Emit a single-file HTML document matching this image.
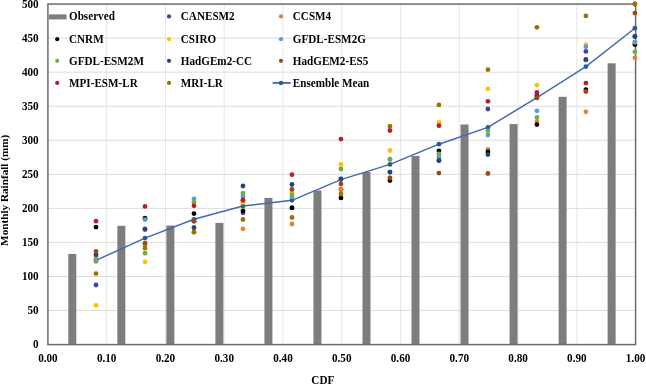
<!DOCTYPE html>
<html><head><meta charset="utf-8"><style>
html,body{margin:0;padding:0;background:#fff;}
body{width:646px;height:385px;overflow:hidden;position:relative;font-family:"Liberation Serif",serif;}
</style></head><body>
<svg width="646" height="385" viewBox="0 0 646 385" style="position:absolute;left:0;top:0;will-change:transform">
<g stroke="#E6E6E6" stroke-width="1"><line x1="106.67" y1="4.05" x2="106.67" y2="344.60"/><line x1="165.44" y1="4.05" x2="165.44" y2="344.60"/><line x1="224.21" y1="4.05" x2="224.21" y2="344.60"/><line x1="282.98" y1="4.05" x2="282.98" y2="344.60"/><line x1="341.75" y1="4.05" x2="341.75" y2="344.60"/><line x1="400.52" y1="4.05" x2="400.52" y2="344.60"/><line x1="459.29" y1="4.05" x2="459.29" y2="344.60"/><line x1="518.06" y1="4.05" x2="518.06" y2="344.60"/><line x1="576.83" y1="4.05" x2="576.83" y2="344.60"/></g>
<g stroke="#DDDDDD" stroke-width="1"><line x1="47.90" y1="310.55" x2="635.60" y2="310.55"/><line x1="47.90" y1="276.49" x2="635.60" y2="276.49"/><line x1="47.90" y1="242.44" x2="635.60" y2="242.44"/><line x1="47.90" y1="208.38" x2="635.60" y2="208.38"/><line x1="47.90" y1="174.33" x2="635.60" y2="174.33"/><line x1="47.90" y1="140.27" x2="635.60" y2="140.27"/><line x1="47.90" y1="106.22" x2="635.60" y2="106.22"/><line x1="47.90" y1="72.16" x2="635.60" y2="72.16"/><line x1="47.90" y1="38.11" x2="635.60" y2="38.11"/></g>
<g fill="#7D7D7D"><rect x="68.30" y="253.90" width="8.0" height="90.70"/><rect x="117.33" y="225.80" width="8.0" height="118.80"/><rect x="166.36" y="225.50" width="8.0" height="119.10"/><rect x="215.39" y="222.90" width="8.0" height="121.70"/><rect x="264.42" y="197.90" width="8.0" height="146.70"/><rect x="313.45" y="190.50" width="8.0" height="154.10"/><rect x="362.48" y="172.00" width="8.0" height="172.60"/><rect x="411.51" y="155.90" width="8.0" height="188.70"/><rect x="460.54" y="124.50" width="8.0" height="220.10"/><rect x="509.57" y="124.10" width="8.0" height="220.50"/><rect x="558.60" y="96.80" width="8.0" height="247.80"/><rect x="607.63" y="63.30" width="8.0" height="281.30"/></g>
<rect x="47.90" y="4.05" width="587.70" height="340.55" fill="none" stroke="#6b6b6b" stroke-width="1.5"/>
<polyline points="96.00,260.30 144.99,238.10 193.98,219.30 242.97,206.00 291.96,200.30 340.95,179.60 389.94,164.40 438.93,144.20 487.92,127.40 536.91,97.60 585.90,66.60 634.89,28.20" fill="none" stroke="#4268B2" stroke-width="1.45" stroke-linejoin="round"/>
<circle cx="96.00" cy="260.30" r="2.4" fill="#255E91"/><circle cx="144.99" cy="238.10" r="2.4" fill="#255E91"/><circle cx="193.98" cy="219.30" r="2.4" fill="#255E91"/><circle cx="242.97" cy="206.00" r="2.4" fill="#255E91"/><circle cx="291.96" cy="200.30" r="2.4" fill="#255E91"/><circle cx="340.95" cy="179.60" r="2.4" fill="#255E91"/><circle cx="389.94" cy="164.40" r="2.4" fill="#255E91"/><circle cx="438.93" cy="144.20" r="2.4" fill="#255E91"/><circle cx="487.92" cy="127.40" r="2.4" fill="#255E91"/><circle cx="536.91" cy="97.60" r="2.4" fill="#255E91"/><circle cx="585.90" cy="66.60" r="2.4" fill="#255E91"/><circle cx="634.89" cy="28.20" r="2.4" fill="#255E91"/>
<circle cx="96.00" cy="285.00" r="2.4" fill="#4B3CA8"/><circle cx="144.99" cy="229.00" r="2.4" fill="#4B3CA8"/><circle cx="193.98" cy="221.20" r="2.4" fill="#4B3CA8"/><circle cx="242.97" cy="212.80" r="2.4" fill="#4B3CA8"/><circle cx="291.96" cy="207.70" r="2.4" fill="#4B3CA8"/><circle cx="340.95" cy="189.50" r="2.4" fill="#4B3CA8"/><circle cx="389.94" cy="172.10" r="2.4" fill="#4B3CA8"/><circle cx="438.93" cy="160.50" r="2.4" fill="#4B3CA8"/><circle cx="487.92" cy="109.00" r="2.4" fill="#4B3CA8"/><circle cx="536.91" cy="95.00" r="2.4" fill="#4B3CA8"/><circle cx="585.90" cy="51.40" r="2.4" fill="#4B3CA8"/><circle cx="634.89" cy="36.40" r="2.4" fill="#4B3CA8"/><circle cx="96.00" cy="256.60" r="2.4" fill="#ED7D31"/><circle cx="144.99" cy="245.50" r="2.4" fill="#ED7D31"/><circle cx="193.98" cy="227.70" r="2.4" fill="#ED7D31"/><circle cx="242.97" cy="228.80" r="2.4" fill="#ED7D31"/><circle cx="291.96" cy="224.00" r="2.4" fill="#ED7D31"/><circle cx="340.95" cy="189.50" r="2.4" fill="#ED7D31"/><circle cx="389.94" cy="177.90" r="2.4" fill="#ED7D31"/><circle cx="438.93" cy="154.00" r="2.4" fill="#ED7D31"/><circle cx="487.92" cy="149.40" r="2.4" fill="#ED7D31"/><circle cx="536.91" cy="121.60" r="2.4" fill="#ED7D31"/><circle cx="585.90" cy="111.80" r="2.4" fill="#ED7D31"/><circle cx="634.89" cy="57.80" r="2.4" fill="#ED7D31"/><circle cx="96.00" cy="227.10" r="2.4" fill="#000000"/><circle cx="144.99" cy="218.20" r="2.4" fill="#000000"/><circle cx="193.98" cy="213.60" r="2.4" fill="#000000"/><circle cx="242.97" cy="210.80" r="2.4" fill="#000000"/><circle cx="291.96" cy="207.90" r="2.4" fill="#000000"/><circle cx="340.95" cy="197.90" r="2.4" fill="#000000"/><circle cx="389.94" cy="180.50" r="2.4" fill="#000000"/><circle cx="438.93" cy="150.80" r="2.4" fill="#000000"/><circle cx="487.92" cy="151.90" r="2.4" fill="#000000"/><circle cx="536.91" cy="124.60" r="2.4" fill="#000000"/><circle cx="585.90" cy="89.60" r="2.4" fill="#000000"/><circle cx="634.89" cy="44.50" r="2.4" fill="#000000"/><circle cx="96.00" cy="305.30" r="2.4" fill="#FFC000"/><circle cx="144.99" cy="261.80" r="2.4" fill="#FFC000"/><circle cx="193.98" cy="232.20" r="2.4" fill="#FFC000"/><circle cx="242.97" cy="202.50" r="2.4" fill="#FFC000"/><circle cx="291.96" cy="192.30" r="2.4" fill="#FFC000"/><circle cx="340.95" cy="164.40" r="2.4" fill="#FFC000"/><circle cx="389.94" cy="150.50" r="2.4" fill="#FFC000"/><circle cx="438.93" cy="122.50" r="2.4" fill="#FFC000"/><circle cx="487.92" cy="88.80" r="2.4" fill="#FFC000"/><circle cx="536.91" cy="85.10" r="2.4" fill="#FFC000"/><circle cx="585.90" cy="44.70" r="2.4" fill="#FFC000"/><circle cx="634.89" cy="42.20" r="2.4" fill="#FFC000"/><circle cx="96.00" cy="259.00" r="2.4" fill="#5B9BD5"/><circle cx="144.99" cy="219.60" r="2.4" fill="#5B9BD5"/><circle cx="193.98" cy="198.80" r="2.4" fill="#5B9BD5"/><circle cx="242.97" cy="196.40" r="2.4" fill="#5B9BD5"/><circle cx="291.96" cy="196.80" r="2.4" fill="#5B9BD5"/><circle cx="340.95" cy="179.00" r="2.4" fill="#5B9BD5"/><circle cx="389.94" cy="159.40" r="2.4" fill="#5B9BD5"/><circle cx="438.93" cy="157.30" r="2.4" fill="#5B9BD5"/><circle cx="487.92" cy="135.10" r="2.4" fill="#5B9BD5"/><circle cx="536.91" cy="110.80" r="2.4" fill="#5B9BD5"/><circle cx="585.90" cy="46.70" r="2.4" fill="#5B9BD5"/><circle cx="634.89" cy="42.20" r="2.4" fill="#5B9BD5"/><circle cx="96.00" cy="261.40" r="2.4" fill="#70AD47"/><circle cx="144.99" cy="253.20" r="2.4" fill="#70AD47"/><circle cx="193.98" cy="202.30" r="2.4" fill="#70AD47"/><circle cx="242.97" cy="193.10" r="2.4" fill="#70AD47"/><circle cx="291.96" cy="194.60" r="2.4" fill="#70AD47"/><circle cx="340.95" cy="169.00" r="2.4" fill="#70AD47"/><circle cx="389.94" cy="159.20" r="2.4" fill="#70AD47"/><circle cx="438.93" cy="154.00" r="2.4" fill="#70AD47"/><circle cx="487.92" cy="130.80" r="2.4" fill="#70AD47"/><circle cx="536.91" cy="117.50" r="2.4" fill="#70AD47"/><circle cx="585.90" cy="60.20" r="2.4" fill="#70AD47"/><circle cx="634.89" cy="51.80" r="2.4" fill="#70AD47"/><circle cx="96.00" cy="254.60" r="2.4" fill="#264478"/><circle cx="144.99" cy="229.40" r="2.4" fill="#264478"/><circle cx="193.98" cy="227.70" r="2.4" fill="#264478"/><circle cx="242.97" cy="186.00" r="2.4" fill="#264478"/><circle cx="291.96" cy="184.50" r="2.4" fill="#264478"/><circle cx="340.95" cy="178.80" r="2.4" fill="#264478"/><circle cx="389.94" cy="172.10" r="2.4" fill="#264478"/><circle cx="438.93" cy="160.50" r="2.4" fill="#264478"/><circle cx="487.92" cy="154.60" r="2.4" fill="#264478"/><circle cx="536.91" cy="96.00" r="2.4" fill="#264478"/><circle cx="585.90" cy="59.40" r="2.4" fill="#264478"/><circle cx="634.89" cy="36.40" r="2.4" fill="#264478"/><circle cx="96.00" cy="251.40" r="2.4" fill="#9E480E"/><circle cx="144.99" cy="243.20" r="2.4" fill="#9E480E"/><circle cx="193.98" cy="221.20" r="2.4" fill="#9E480E"/><circle cx="242.97" cy="200.30" r="2.4" fill="#9E480E"/><circle cx="291.96" cy="189.40" r="2.4" fill="#9E480E"/><circle cx="340.95" cy="184.00" r="2.4" fill="#9E480E"/><circle cx="389.94" cy="177.90" r="2.4" fill="#9E480E"/><circle cx="438.93" cy="173.10" r="2.4" fill="#9E480E"/><circle cx="487.92" cy="173.50" r="2.4" fill="#9E480E"/><circle cx="536.91" cy="97.90" r="2.4" fill="#9E480E"/><circle cx="585.90" cy="91.50" r="2.4" fill="#9E480E"/><circle cx="634.89" cy="13.10" r="2.4" fill="#9E480E"/><circle cx="96.00" cy="221.20" r="2.4" fill="#B81D2E"/><circle cx="144.99" cy="206.40" r="2.4" fill="#B81D2E"/><circle cx="193.98" cy="205.80" r="2.4" fill="#B81D2E"/><circle cx="242.97" cy="199.90" r="2.4" fill="#B81D2E"/><circle cx="291.96" cy="174.70" r="2.4" fill="#B81D2E"/><circle cx="340.95" cy="139.10" r="2.4" fill="#B81D2E"/><circle cx="389.94" cy="130.50" r="2.4" fill="#B81D2E"/><circle cx="438.93" cy="125.70" r="2.4" fill="#B81D2E"/><circle cx="487.92" cy="101.30" r="2.4" fill="#B81D2E"/><circle cx="536.91" cy="92.50" r="2.4" fill="#B81D2E"/><circle cx="585.90" cy="83.10" r="2.4" fill="#B81D2E"/><circle cx="634.89" cy="4.00" r="2.4" fill="#B81D2E"/><circle cx="96.00" cy="273.60" r="2.4" fill="#997300"/><circle cx="144.99" cy="248.20" r="2.4" fill="#997300"/><circle cx="193.98" cy="232.20" r="2.4" fill="#997300"/><circle cx="242.97" cy="219.50" r="2.4" fill="#997300"/><circle cx="291.96" cy="217.50" r="2.4" fill="#997300"/><circle cx="340.95" cy="194.00" r="2.4" fill="#997300"/><circle cx="389.94" cy="126.20" r="2.4" fill="#997300"/><circle cx="438.93" cy="104.90" r="2.4" fill="#997300"/><circle cx="487.92" cy="69.70" r="2.4" fill="#997300"/><circle cx="536.91" cy="27.30" r="2.4" fill="#997300"/><circle cx="585.90" cy="15.90" r="2.4" fill="#997300"/><circle cx="634.89" cy="4.00" r="2.4" fill="#997300"/>
<rect x="48.9" y="14.4" width="17.6" height="5.0" fill="#7D7D7D"/><circle cx="169.00" cy="16.45" r="2.1" fill="#4B3CA8"/><circle cx="281.00" cy="16.45" r="2.1" fill="#ED7D31"/><circle cx="57.20" cy="39.15" r="2.1" fill="#000000"/><circle cx="169.00" cy="39.15" r="2.1" fill="#FFC000"/><circle cx="281.00" cy="39.15" r="2.1" fill="#5B9BD5"/><circle cx="57.20" cy="60.85" r="2.1" fill="#70AD47"/><circle cx="169.00" cy="60.85" r="2.1" fill="#264478"/><circle cx="281.00" cy="60.85" r="2.1" fill="#9E480E"/><circle cx="57.20" cy="82.95" r="2.1" fill="#B81D2E"/><circle cx="169.00" cy="82.95" r="2.1" fill="#997300"/><line x1="272.6" y1="82.95" x2="290.8" y2="82.95" stroke="#4268B2" stroke-width="1.8"/><circle cx="281.00" cy="82.95" r="2.2" fill="#255E91"/>
<g font-family="'Liberation Serif', serif" font-weight="bold" font-size="11.15" fill="#000"><text transform="translate(38.6,348.20) scale(1,1.10)" text-anchor="end">0</text><text transform="translate(38.6,314.15) scale(1,1.10)" text-anchor="end">50</text><text transform="translate(38.6,280.09) scale(1,1.10)" text-anchor="end">100</text><text transform="translate(38.6,246.03) scale(1,1.10)" text-anchor="end">150</text><text transform="translate(38.6,211.98) scale(1,1.10)" text-anchor="end">200</text><text transform="translate(38.6,177.93) scale(1,1.10)" text-anchor="end">250</text><text transform="translate(38.6,143.87) scale(1,1.10)" text-anchor="end">300</text><text transform="translate(38.6,109.82) scale(1,1.10)" text-anchor="end">350</text><text transform="translate(38.6,75.76) scale(1,1.10)" text-anchor="end">400</text><text transform="translate(38.6,41.71) scale(1,1.10)" text-anchor="end">450</text><text transform="translate(38.6,7.65) scale(1,1.10)" text-anchor="end">500</text><text transform="translate(47.90,361.8) scale(1,1.10)" text-anchor="middle">0.00</text><text transform="translate(106.67,361.8) scale(1,1.10)" text-anchor="middle">0.10</text><text transform="translate(165.44,361.8) scale(1,1.10)" text-anchor="middle">0.20</text><text transform="translate(224.21,361.8) scale(1,1.10)" text-anchor="middle">0.30</text><text transform="translate(282.98,361.8) scale(1,1.10)" text-anchor="middle">0.40</text><text transform="translate(341.75,361.8) scale(1,1.10)" text-anchor="middle">0.50</text><text transform="translate(400.52,361.8) scale(1,1.10)" text-anchor="middle">0.60</text><text transform="translate(459.29,361.8) scale(1,1.10)" text-anchor="middle">0.70</text><text transform="translate(518.06,361.8) scale(1,1.10)" text-anchor="middle">0.80</text><text transform="translate(576.83,361.8) scale(1,1.10)" text-anchor="middle">0.90</text><text transform="translate(635.60,361.8) scale(1,1.10)" text-anchor="middle">1.00</text><text transform="translate(322.8,383.8) scale(1,1.10)" text-anchor="middle">CDF</text><text transform="translate(8.0,190.3) rotate(-90)" text-anchor="middle" font-size="11.2">Monthly Rainfall (mm)</text><text transform="translate(69.00,20.20) scale(1,1.10)">Observed</text><text transform="translate(180.80,20.20) scale(1,1.10)">CANESM2</text><text transform="translate(292.80,20.20) scale(1,1.10)">CCSM4</text><text transform="translate(69.00,42.90) scale(1,1.10)">CNRM</text><text transform="translate(180.80,42.90) scale(1,1.10)">CSIRO</text><text transform="translate(292.80,42.90) scale(1,1.10)">GFDL-ESM2G</text><text transform="translate(69.00,64.60) scale(1,1.10)">GFDL-ESM2M</text><text transform="translate(180.80,64.60) scale(1,1.10)">HadGEm2-CC</text><text transform="translate(292.80,64.60) scale(1,1.10)">HadGEM2-ES5</text><text transform="translate(69.00,86.70) scale(1,1.10)">MPI-ESM-LR</text><text transform="translate(180.80,86.70) scale(1,1.10)">MRI-LR</text><text transform="translate(292.80,86.70) scale(1,1.10)">Ensemble Mean</text></g>
</svg>
</body></html>
